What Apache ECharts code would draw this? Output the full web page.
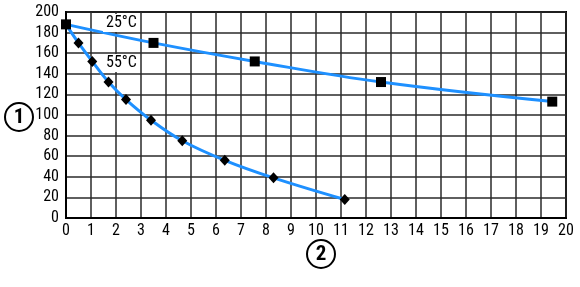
<!DOCTYPE html>
<html><head><meta charset="utf-8">
<script src="https://cdn.jsdelivr.net/npm/echarts@6/dist/echarts.min.js"></script>
<style>html,body{margin:0;padding:0;background:#fff}#c{width:580px;height:287px}</style>
</head><body><div id="c"></div>
<script>
const xTicks = [0,1,2,3,4,5,6,7,8,9,10,11,12,13,14,15,16,17,18,19,20];
const yTicks = [0,20,40,60,80,100,120,140,160,180,200];
const series25Name = '25°C';
const series25X = [0, 3.5, 7.55, 12.6, 19.45];
const series25Y = [188, 170, 152, 132, 113];
const series55Name = '55°C';
const series55X = [0, 0.5, 1.05, 1.7, 2.4, 3.4, 4.65, 6.35, 8.3, 11.15];
const series55Y = [188, 170, 152, 132, 115, 95, 75, 56, 39, 18];
const xAxisLabel = '2';
const yAxisLabel = '1';

const FONT = '"Liberation Sans Narrow","Roboto Condensed","DejaVu Sans Condensed",sans-serif';
const chart = echarts.init(document.getElementById('c'), null, {renderer:'canvas'});
const d25 = series25X.map((x,i)=>[x, series25Y[i]]);
const d55 = series55X.map((x,i)=> i===0 ? {value:[x, series55Y[i]], symbol:'none'} : [x, series55Y[i]]);
chart.setOption({
  animation:false,
  grid:{left:66,right:14,top:12,bottom:69,show:true,borderColor:'#000',borderWidth:2},
  xAxis:{type:'value',min:0,max:20,interval:1,
    axisLine:{show:true,lineStyle:{color:'#000',width:2}},
    axisTick:{show:false},
    axisLabel:{color:'#000',fontFamily:FONT,fontSize:16,margin:5,
      formatter:v=>xTicks.includes(v)?String(v):''},
    splitLine:{show:true,lineStyle:{color:'#2a2a2a',width:1.5}}},
  yAxis:{type:'value',min:0,max:200,interval:20,
    axisLine:{show:true,lineStyle:{color:'#000',width:2}},
    axisTick:{show:false},
    axisLabel:{color:'#000',fontFamily:FONT,fontSize:16,margin:7,
      formatter:v=>yTicks.includes(v)?String(v):''},
    splitLine:{show:true,lineStyle:{color:'#2a2a2a',width:1.5}}},
  series:[
    {name:series55Name,type:'line',data:d55,smooth:0.4,symbol:'diamond',symbolSize:[10,11],
     lineStyle:{color:'#1e90ff',width:3},itemStyle:{color:'#000'},z:3},
    {name:series25Name,type:'line',data:d25,smooth:0.4,symbol:'rect',symbolSize:10,
     lineStyle:{color:'#1e90ff',width:3},itemStyle:{color:'#000'},z:4}
  ],
  graphic:[
    {type:'text',left:103,top:14,z:10,style:{text:series25Name,font:'16px '+FONT,fill:'#000',backgroundColor:'#fff',padding:[1,3]}},
    {type:'text',left:103,top:54,z:10,style:{text:series55Name,font:'16px '+FONT,fill:'#000',backgroundColor:'#fff',padding:[1,3]}},
    {type:'circle',shape:{cx:19,cy:117,r:14},style:{fill:'#fff',stroke:'#000',lineWidth:2}},
    {type:'text',x:19,y:118,style:{text:yAxisLabel,font:'bold 21px '+FONT,fill:'#000',align:'center',verticalAlign:'middle'}},
    {type:'circle',shape:{cx:321,cy:254,r:14},style:{fill:'#fff',stroke:'#000',lineWidth:2}},
    {type:'text',x:321,y:255,style:{text:xAxisLabel,font:'bold 21px '+FONT,fill:'#000',align:'center',verticalAlign:'middle'}}
  ]
});
</script></body></html>
